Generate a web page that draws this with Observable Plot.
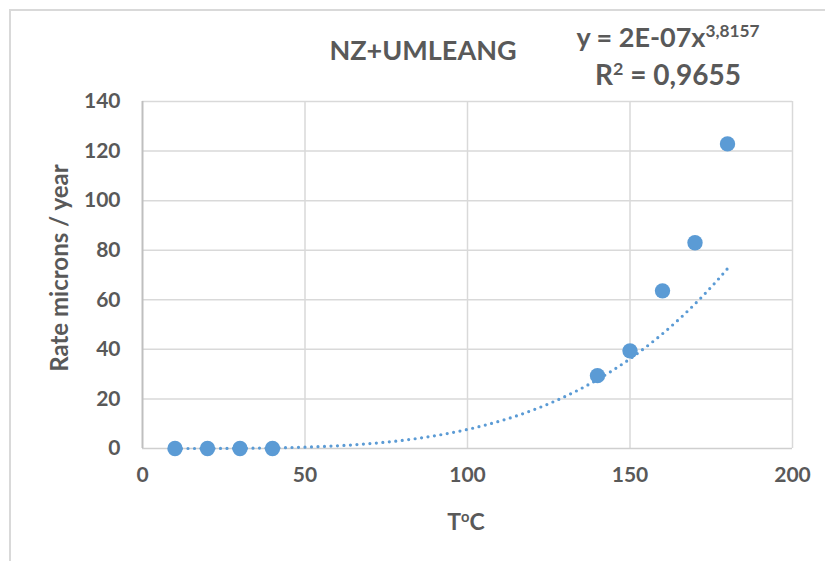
<!DOCTYPE html>
<html>
<head>
<meta charset="utf-8">
<script src="https://cdn.jsdelivr.net/npm/d3@7"></script>
<script src="https://cdn.jsdelivr.net/npm/@observablehq/plot@0.6"></script>
<style>
  html, body { margin: 0; padding: 0; background: #fff; }
  #wrap { position: relative; width: 825px; height: 561px; overflow: hidden; font-family: Lato, "Open Sans", sans-serif; color: #595959; }
  #border { position: absolute; left: 9px; top: 9px; width: 830px; height: 570px; border: 2px solid #d9d9d9; box-sizing: border-box; }
  .t { position: absolute; font-weight: bold; white-space: nowrap; color: #595959; }
  #title { left: 423px; top: 49px; transform: translate(-50%, -50%); font-size: 27px; }
  #eq1 { left: 668px; top: 36px; transform: translate(-50%, -50%); font-size: 27px; }
  #eq2 { left: 668px; top: 74px; transform: translate(-50%, -50%); font-size: 28px; }
  #ylab { left: 58px; top: 268px; transform: translate(-50%, -50%) rotate(-90deg); font-size: 24px; }
  #xlab { left: 466px; top: 521px; transform: translate(-50%, -50%); font-size: 23px; }
  sup { font-size: 0.64em; vertical-align: 0.55em; line-height: 0; }
  #chart { position: absolute; left: 0; top: 0; }
</style>
</head>
<body>
<div id="wrap">
  <div id="border"></div>
  <div id="chart"></div>
  <div class="t" id="title">NZ+UMLEANG</div>
  <div class="t" id="eq1">y = 2E-07x<sup>3,8157</sup></div>
  <div class="t" id="eq2">R<sup>2</sup> = 0,9655</div>
  <div class="t" id="ylab">Rate microns / year</div>
  <div class="t" id="xlab">T<sup>o</sup>C</div>
</div>
<script>
const temperatures = [10, 20, 30, 40, 140, 150, 160, 170, 180];
const rates = [0, 0, 0, 0, 29.4, 39.4, 63.6, 83, 122.9];
const xTicks = [0, 50, 100, 150, 200];
const yTicks = [0, 20, 40, 60, 80, 100, 120, 140];
// power trendline as displayed by the chart (coefficient)
const trendA = 1.8e-7;
const trendB = 3.8157;
const trendStart = 10, trendEnd = 180;

const points = temperatures.map((t, i) => ({t, r: rates[i]}));
const trend = d3.range(trendStart, trendEnd + 0.001, 1).map(t => ({t, r: trendA * Math.pow(t, trendB)}));

const blue = "#5b9bd5";
const chart = Plot.plot({
  width: 825,
  height: 561,
  marginLeft: 142,
  marginRight: 33,
  marginTop: 101,
  marginBottom: 113,
  style: {fontFamily: "Lato, 'Open Sans', sans-serif", fontSize: "21px", fontWeight: "bold", color: "#595959", background: "transparent"},
  x: {domain: [0, 200]},
  y: {domain: [0, 140]},
  marks: [
    Plot.gridX(xTicks.filter(d => d > 0), {stroke: "#d9d9d9", strokeOpacity: 1, strokeWidth: 1.5}),
    Plot.gridY(yTicks.filter(d => d > 0), {stroke: "#d9d9d9", strokeOpacity: 1, strokeWidth: 1.5}),
    Plot.ruleY([0], {stroke: "#cfcfcf", strokeWidth: 1.5}),
    Plot.ruleX([0], {stroke: "#bfbfbf", strokeWidth: 2}),
    Plot.axisX(xTicks, {tickSize: 0, tickPadding: 19, label: null, fill: "#595959", fontWeight: "bold", fontSize: 21}),
    Plot.axisY(yTicks, {tickSize: 0, tickPadding: 22, label: null, fill: "#595959", fontWeight: "bold", fontSize: 21}),
    Plot.line(trend, {x: "t", y: "r", stroke: blue, strokeWidth: 3.2, strokeDasharray: "0 6.5", strokeLinecap: "round"}),
    Plot.dot(points, {x: "t", y: "r", r: 7.7, fill: blue, stroke: null})
  ]
});
document.getElementById("chart").appendChild(chart);
</script>
</body>
</html>
